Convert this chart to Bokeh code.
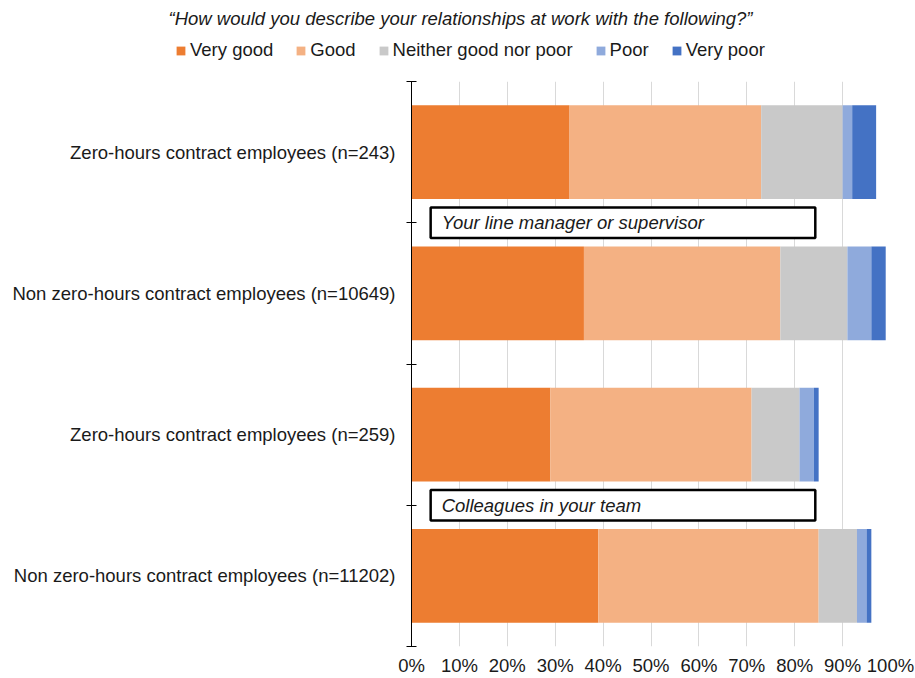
from bokeh.plotting import figure
from bokeh.layouts import column
from bokeh.models import (Range1d, FixedTicker, Label, Legend, LegendItem,
                          ColumnDataSource, PrintfTickFormatter)
from bokeh.core.properties import value
from bokeh.embed import file_html
from bokeh.resources import INLINE

# ---- data ----
categories = [
    "Zero-hours contract employees (n=243)",
    "Non zero-hours contract employees (n=10649)",
    "Zero-hours contract employees (n=259)",
    "Non zero-hours contract employees (n=11202)",
]
series = ["Very good", "Good", "Neither good nor poor", "Poor", "Very poor"]
very_good = [33, 36, 29, 39]
good = [40, 41, 42, 46]
neither = [17, 14, 10, 8]
poor = [2, 5, 3, 2]
very_poor = [5, 3, 1, 1]
groups = ["Your line manager or supervisor", "Colleagues in your team"]
group_boundary = [1, 3]  # boundary index between the two rows of each group
x_ticks = [0, 10, 20, 30, 40, 50, 60, 70, 80, 90, 100]
title_text = "\u201cHow would you describe your relationships at work with the following?\u201d"

colors = ["#ED7D31", "#F4B183", "#C9C9C9", "#8FAADC", "#4472C4"]
FONT = "Liberation Sans"
FS = "18.5px"
TXT = "#1a1a1a"

# ---- header (title + legend) ----
W, HEAD_H, MAIN_H = 915, 81, 597
head = figure(width=W, height=HEAD_H, output_backend="svg", toolbar_location=None,
              x_range=Range1d(0, W), y_range=Range1d(HEAD_H, 0),
              x_axis_type=None, y_axis_type=None,
              min_border=0, min_border_left=0, min_border_right=0,
              min_border_top=0, min_border_bottom=0)
head.frame_align = False
head.outline_line_color = None
head.grid.visible = False
# zero-size legend proxies (nothing visible is drawn by them)
proxy_src = ColumnDataSource(dict(y=[0], l=[0], r=[0]))
proxies = [head.hbar(y="y", left="l", right="r", height=0, source=proxy_src,
                     color=c, line_color=None) for c in colors]
head.add_layout(Label(x=460, y=18, text=title_text, text_font=FONT, text_font_size=FS,
                      text_font_style="italic", text_align="center",
                      text_baseline="middle", text_color=TXT))
legend = Legend(items=[LegendItem(label=s, renderers=[r]) for s, r in zip(series, proxies)],
                location=(175, 20), orientation="horizontal",
                glyph_width=11, glyph_height=11, label_standoff=4, spacing=22,
                padding=0, margin=0, border_line_color=None, background_fill_alpha=0,
                label_text_font=FONT, label_text_font_size=FS, label_text_color=TXT)
head.add_layout(legend, "center")

# ---- main chart ----
ypos = [i + 0.5 for i in range(len(categories))]
src = ColumnDataSource(dict(y=ypos, vg=very_good, g=good, n=neither, p=poor, vp=very_poor))

p = figure(width=W, height=MAIN_H, output_backend="svg", toolbar_location=None,
           x_range=Range1d(0, 100), y_range=Range1d(len(categories), 0),
           min_border_left=411, min_border_right=25, min_border_top=0, min_border_bottom=32)
p.frame_align = False
p.outline_line_color = None
p.background_fill_color = "white"
p.border_fill_color = "white"

p.hbar_stack(["vg", "g", "n", "p", "vp"], y="y", height=0.665, color=colors,
             line_color=None, source=src)

# annotation boxes
bx = ColumnDataSource(dict(
    left=[4.0] * len(groups), right=[84.3] * len(groups),
    top=[b - 0.108 for b in group_boundary], bottom=[b + 0.108 for b in group_boundary],
    tx=[6.3] * len(groups), ty=group_boundary, label=groups))
p.quad(left="left", right="right", top="top", bottom="bottom", source=bx,
       fill_color="white", line_color="black", line_width=2.5)
p.text(x="tx", y="ty", text="label", source=bx, text_font=value(FONT),
       text_font_size=FS, text_font_style="italic", text_baseline="middle",
       text_align="left", text_color=TXT)

# x axis
p.xaxis.ticker = FixedTicker(ticks=x_ticks)
p.xaxis.formatter = PrintfTickFormatter(format="%d%%")
p.xaxis.axis_line_color = None
p.xaxis.major_tick_line_color = None
p.xaxis.minor_tick_line_color = None
p.xaxis.major_tick_in = 0
p.xaxis.major_tick_out = 0
p.xaxis.major_label_standoff = 8
p.xaxis.major_label_text_line_height = 1.0
p.xaxis.major_label_text_font = FONT
p.xaxis.major_label_text_font_size = FS
p.xaxis.major_label_text_color = TXT
p.xgrid.ticker = FixedTicker(ticks=x_ticks)
p.xgrid.grid_line_color = "#D9D9D9"
p.ygrid.grid_line_color = None

# y axis: labels at row centres, tick marks at row boundaries
p.yaxis.ticker = FixedTicker(ticks=ypos, minor_ticks=list(range(len(categories) + 1)))
p.yaxis.major_label_overrides = {y: c for y, c in zip(ypos, categories)}
p.yaxis.major_tick_in = 0
p.yaxis.major_tick_out = 0
p.yaxis.minor_tick_in = 5
p.yaxis.minor_tick_out = 5
p.yaxis.minor_tick_line_color = "black"
p.yaxis.axis_line_color = "black"
p.yaxis.major_label_standoff = 11
p.yaxis.major_label_text_font = FONT
p.yaxis.major_label_text_font_size = FS
p.yaxis.major_label_text_color = TXT

layout = column(head, p, spacing=0)
open("out.html", "w").write(file_html(layout, INLINE))
